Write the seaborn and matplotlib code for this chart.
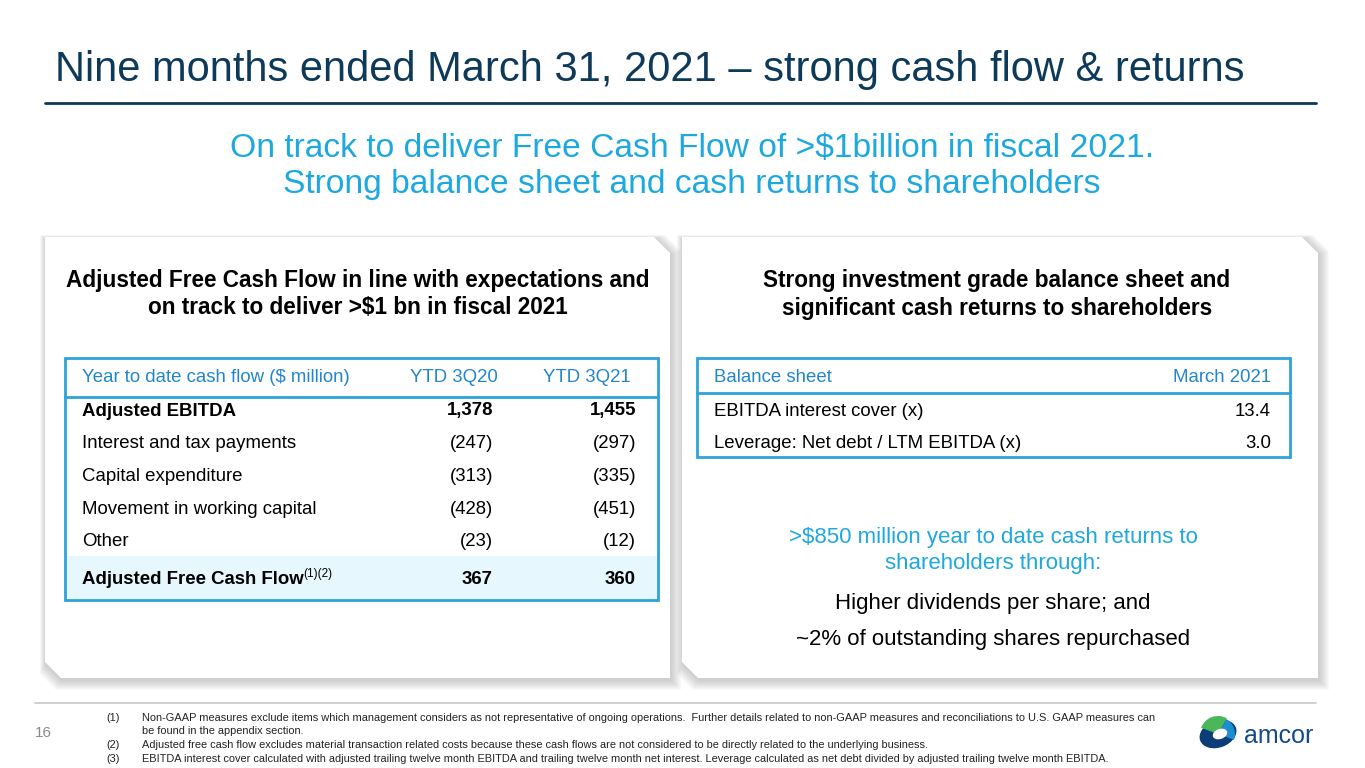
import matplotlib
matplotlib.use("Agg")
import matplotlib.pyplot as plt
from matplotlib.patches import Polygon, Rectangle, Ellipse, Wedge
import seaborn as sns

# ---- data ----
title = "Nine months ended March 31, 2021 \u2013 strong cash flow & returns"
subtitle = ["On track to deliver Free Cash Flow of >$1billion in fiscal 2021.",
            "Strong balance sheet and cash returns to shareholders"]

left_heading = ["Adjusted Free Cash Flow in line with expectations and",
                "on track to deliver >$1 bn in fiscal 2021"]
cf_header = ["Year to date cash flow ($ million)", "YTD 3Q20", "YTD 3Q21"]
cf_labels = ["Adjusted EBITDA", "Interest and tax payments", "Capital expenditure",
             "Movement in working capital", "Other", "Adjusted Free Cash Flow"]
ytd_3q20 = [1378, -247, -313, -428, -23, 367]
ytd_3q21 = [1455, -297, -335, -451, -12, 360]
cf_bold = [True, False, False, False, False, True]

right_heading = ["Strong investment grade balance sheet and",
                 "significant cash returns to shareholders"]
bs_header = ["Balance sheet", "March 2021"]
bs_labels = ["EBITDA interest cover (x)", "Leverage: Net debt / LTM EBITDA (x)"]
bs_values = [13.4, 3.0]

returns_blue = [">$850 million year to date cash returns to", "shareholders through:"]
returns_black = ["Higher dividends per share; and", "~2% of outstanding shares repurchased"]

footnotes = [
    ("(1)", "Non-GAAP measures exclude items which management considers as not representative of ongoing operations.  "
            "Further details related to non-GAAP measures and reconciliations to U.S. GAAP measures can"),
    ("", "be found in the appendix section."),
    ("(2)", "Adjusted free cash flow excludes material transaction related costs because these cash flows are not "
            "considered to be directly related to the underlying business."),
    ("(3)", "EBITDA interest cover calculated with adjusted trailing twelve month EBITDA and trailing twelve month "
            "net interest. Leverage calculated as net debt divided by adjusted trailing twelve month EBITDA."),
]
page_no = "16"

NAVY = "#0e3a5a"
CYAN = "#1ea8e0"
TBL = "#2ea3d8"
HDR = "#2386c8"
FS = 13.4  # table font size

sns.set_theme(style="white")
plt.rcParams["font.family"] = ["Liberation Sans", "DejaVu Sans"]


def fmt(v):
    return f"({abs(v):,})" if v < 0 else f"{v:,}"


fig = plt.figure(figsize=(13.65, 7.68), dpi=100)
ax = fig.add_axes([0, 0, 1, 1])
ax.set_xlim(0, 1365)
ax.set_ylim(768, 0)
ax.axis("off")

# title and rule
ax.text(55, 70, title, fontsize=30, color=NAVY, va="center", ha="left")
ax.plot([45, 1316], [103, 103], color=NAVY, lw=2)

for i, s in enumerate(subtitle):
    ax.text(692, 148 + i * 36, s, fontsize=24.2, color=CYAN, ha="center", va="center")


def panel(x0, y0, x1, y1, c=16):
    pts = [(x0, y0), (x1 - c, y0), (x1, y0 + c), (x1, y1), (x0 + c, y1), (x0, y1 - c)]
    for k in range(10, 0, -1):
        sh = [(px + (k if px > (x0 + x1) / 2 else -k * 0.6) + 1,
               py + (k if py > (y0 + y1) / 2 else -k * 0.4) + 2) for px, py in pts]
        ax.add_patch(Polygon(sh, closed=True, fc="#7a7a7a", ec="none", alpha=0.04))
    ax.add_patch(Polygon(pts, closed=True, fc="white", ec="none"))


panel(45, 237, 670, 678)
panel(682, 237, 1318, 678)

# left panel
for i, s in enumerate(left_heading):
    ax.text(358, 280 + i * 28, s, fontsize=16.3, fontweight="bold", color="black",
            ha="center", va="center")

tx0, tx1, ty0, ty1 = 65, 658, 358, 600
ax.add_patch(Rectangle((tx0, 556), tx1 - tx0, ty1 - 556, fc="#e6f7fd", ec="none"))
ax.add_patch(Rectangle((tx0, ty0), tx1 - tx0, ty1 - ty0, fc="none", ec=TBL, lw=2))
ax.plot([tx0, tx1], [397, 397], color=TBL, lw=2)
col_x = [82, 493, 636]
ax.text(col_x[0], 378, cf_header[0], fontsize=FS, color=HDR, ha="left", va="center")
ax.text(498, 378, cf_header[1], fontsize=FS, color=HDR, ha="right", va="center")
ax.text(631, 378, cf_header[2], fontsize=FS, color=HDR, ha="right", va="center")

fig.canvas.draw()
renderer = fig.canvas.get_renderer()
for i, lab in enumerate(cf_labels):
    y = 411 + i * 32.7 + (5 if i == len(cf_labels) - 1 else 0)
    w = "bold" if cf_bold[i] else "normal"
    t = ax.text(col_x[0], y, lab, fontsize=FS, fontweight=w, color="black", ha="left", va="center")
    if i == len(cf_labels) - 1:
        bb = t.get_window_extent(renderer)
        ax.text(bb.x1, y - 6, "(1)(2)", fontsize=8.5, color="black", ha="left", va="center")
    ax.text(col_x[1], y, fmt(ytd_3q20[i]), fontsize=FS, fontweight=w, color="black",
            ha="right", va="center")
    ax.text(col_x[2], y, fmt(ytd_3q21[i]), fontsize=FS, fontweight=w, color="black",
            ha="right", va="center")

# right panel
for i, s in enumerate(right_heading):
    ax.text(997, 281 + i * 28, s, fontsize=16.3, fontweight="bold", color="black",
            ha="center", va="center")

bx0, bx1, by0, by1 = 697, 1290, 358, 457
ax.add_patch(Rectangle((bx0, by0), bx1 - bx0, by1 - by0, fc="none", ec=TBL, lw=2))
ax.plot([bx0, bx1], [393, 393], color=TBL, lw=2)
ax.text(714, 377, bs_header[0], fontsize=FS, color=HDR, ha="left", va="center")
ax.text(1271, 377, bs_header[1], fontsize=FS, color=HDR, ha="right", va="center")
for i, lab in enumerate(bs_labels):
    y = 411 + i * 32
    ax.text(714, y, lab, fontsize=FS, color="black", ha="left", va="center")
    ax.text(1271, y, f"{bs_values[i]:.1f}", fontsize=FS, color="black", ha="right", va="center")

for i, s in enumerate(returns_blue):
    ax.text(993, 537 + i * 27, s, fontsize=16, color=CYAN, ha="center", va="center")
for i, s in enumerate(returns_black):
    ax.text(993, 603 + i * 37, s, fontsize=16, color="black", ha="center", va="center")

# footer
ax.plot([35, 1316], [703, 703], color="#c8c8c8", lw=1.2)
ax.text(35, 733, page_no, fontsize=11, color="#8a8a8a", ha="left", va="center")
fy = [718, 731, 745, 759]
for (num, txt), y in zip(footnotes, fy):
    ax.text(106, y, num, fontsize=7.95, color="#222222", ha="left", va="center")
    ax.text(142, y, txt, fontsize=7.95, color="#222222", ha="left", va="center")

# logo
ax.add_patch(Ellipse((1218, 734), 38, 27, angle=-20, fc="#0b3d78", ec="none"))
ax.add_patch(Wedge((1218, 734), 18, 200, 300, fc="#4cb65a", ec="none"))
ax.add_patch(Wedge((1218, 734), 17, 300, 20, fc="#1a8fd0", ec="none"))
ax.add_patch(Ellipse((1220, 734), 15, 10, angle=-20, fc="white", ec="none"))
ax.text(1244, 736, "amcor", fontsize=18, color="#134a8e", ha="left", va="center")

fig.savefig("out.png", dpi=100)
